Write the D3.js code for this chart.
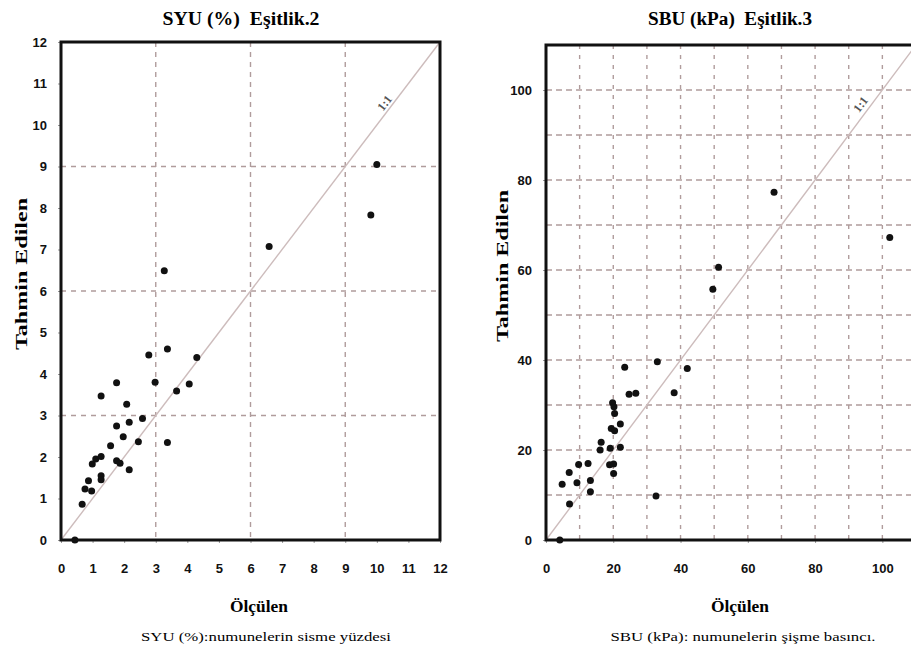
<!DOCTYPE html>
<html>
<head>
<meta charset="utf-8">
<script src="https://cdn.jsdelivr.net/npm/d3@7"></script>
<style>
  body { margin: 0; background: #fff; }
  svg { display: block; }
  .title { font-family: "Liberation Serif", serif; font-weight: bold; font-size: 18px; white-space: pre; }
  .axlab { font-family: "Liberation Serif", serif; font-weight: bold; font-size: 17px; }
  .cap { font-family: "Liberation Serif", serif; font-size: 13px; }
  .tick text { font-family: "Liberation Sans Narrow", "Liberation Sans", sans-serif; font-weight: bold; font-size: 13px; fill: #111; }
</style>
</head>
<body>
<div id="chart"></div>
<script>
// left panel: SYU (%) measured vs predicted
var syuMeasured  = [0.67, 0.76, 0.87, 0.97, 0.99, 1.10, 1.27, 1.27, 1.27, 1.27, 1.57, 1.76, 1.76, 1.76, 1.87, 1.97, 2.08, 2.16, 2.16, 2.45, 2.58, 2.78, 2.98, 3.37, 3.37, 3.66, 4.06, 4.30, 3.27, 6.59, 9.81, 10.0, 0.44];
var syuPredicted = [0.86, 1.23, 1.43, 1.18, 1.83, 1.95, 2.01, 1.55, 1.45, 3.47, 2.27, 3.79, 2.75, 1.91, 1.85, 2.49, 3.27, 2.84, 1.69, 2.37, 2.93, 4.46, 3.80, 4.60, 2.35, 3.59, 3.76, 4.40, 6.49, 7.07, 7.83, 9.05, 0.0];
var syuTicks = [0,1,2,3,4,5,6,7,8,9,10,11,12];
var syuGrid = [3, 6, 9];

// right panel: SBU (kPa) measured vs predicted
var sbuMeasured  = [49.6, 23.4, 33.1, 42.0, 24.7, 26.7, 38.1, 19.8, 20.2, 20.4, 19.4, 20.4, 22.1, 16.4, 16.1, 19.1, 22.1, 18.9, 20.1, 20.1, 9.7, 12.5, 6.9, 4.8, 9.2, 13.2, 13.2, 7.0, 32.7, 67.8, 51.3, 102.2, 4.1];
var sbuPredicted = [55.7, 38.4, 39.6, 38.1, 32.4, 32.6, 32.7, 30.5, 29.6, 28.1, 24.8, 24.3, 25.8, 21.7, 20.0, 20.4, 20.6, 16.7, 16.9, 14.8, 16.8, 17.0, 15.0, 12.4, 12.7, 13.2, 10.7, 8.0, 9.8, 77.3, 60.6, 67.2, 0.0];
var sbuTicks = [0, 20, 40, 60, 80, 100];
var sbuGrid = [10, 20, 30, 40, 50, 60, 70, 80, 90, 100];

var svg = d3.select("#chart").append("svg")
    .attr("width", 911)
    .attr("height", 654);

var gridColor = "#b09c9c";

function drawPanel(opt) {
    var x = d3.scaleLinear().domain(opt.domain).range([opt.left, opt.right]);
    var y = d3.scaleLinear().domain(opt.domain).range([opt.bottom, opt.top]);
    var g = svg.append("g");

    // vertical grid
    g.selectAll(".vg").data(opt.grid).enter().append("line")
        .attr("x1", d => x(d)).attr("x2", d => x(d))
        .attr("y1", opt.top).attr("y2", opt.bottom)
        .attr("stroke", gridColor).attr("stroke-width", 1.4)
        .attr("stroke-dasharray", opt.dashV);
    // horizontal grid
    g.selectAll(".hg").data(opt.grid).enter().append("line")
        .attr("y1", d => y(d)).attr("y2", d => y(d))
        .attr("x1", opt.left).attr("x2", opt.right)
        .attr("stroke", gridColor).attr("stroke-width", 1.4)
        .attr("stroke-dasharray", opt.dashH);

    // 1:1 line
    var dmax = opt.domain[1];
    g.append("line")
        .attr("x1", x(0)).attr("y1", y(0))
        .attr("x2", x(dmax)).attr("y2", y(dmax))
        .attr("stroke", "#cdbcbc").attr("stroke-width", 1.4);
    var ang = -Math.atan2(y(0) - y(1), x(1) - x(0)) * 180 / Math.PI;
    g.append("text")
        .attr("transform", "translate(" + x(opt.labelAt) + "," + (y(opt.labelAt) - opt.labelOff) + ") rotate(" + ang + ")")
        .attr("text-anchor", "middle")
        .style("font-family", "Liberation Serif, serif")
        .style("font-weight", "bold")
        .style("font-size", "12px")
        .attr("fill", "#555")
        .text("1:1");

    // axes
    var xAxis = d3.axisBottom(x).tickValues(opt.ticks).tickSize(3).tickPadding(21).tickFormat(d3.format("d"));
    var yAxis = d3.axisLeft(y).tickValues(opt.ticks).tickSize(3).tickPadding(11).tickFormat(d3.format("d"));
    g.append("g").attr("class", "x axis").attr("transform", "translate(0," + opt.bottom + ")").call(xAxis);
    g.append("g").attr("class", "y axis").attr("transform", "translate(" + opt.left + ",0)").call(yAxis);
    g.selectAll(".domain").remove();
    g.selectAll(".tick line").attr("stroke", "#999");

    // points
    g.selectAll(".pt").data(opt.xs).enter().append("circle")
        .attr("cx", d => x(d))
        .attr("cy", (d, i) => y(opt.ys[i]))
        .attr("r", 3.5)
        .attr("fill", "#111");

    // frame
    g.append("rect")
        .attr("x", opt.left).attr("y", opt.top)
        .attr("width", opt.right - opt.left).attr("height", opt.bottom - opt.top)
        .attr("fill", "none").attr("stroke", "#111").attr("stroke-width", 3);

    svg.append("text").attr("class", "title")
        .attr("x", opt.titleX).attr("y", 25).attr("text-anchor", "middle")
        .attr("textLength", opt.titleW).attr("lengthAdjust", "spacingAndGlyphs")
        .text(opt.title);
    svg.append("text").attr("class", "axlab")
        .attr("x", opt.xLabX).attr("y", 612).attr("text-anchor", "middle")
        .attr("textLength", 58).attr("lengthAdjust", "spacingAndGlyphs")
        .text("Ölçülen");
    svg.append("text").attr("class", "axlab")
        .attr("transform", "translate(" + opt.yLabX + "," + opt.yLabY + ") rotate(-90)")
        .attr("text-anchor", "middle")
        .attr("textLength", 152).attr("lengthAdjust", "spacingAndGlyphs")
        .text("Tahmin Edilen");
    svg.append("text").attr("class", "cap")
        .attr("x", opt.capX).attr("y", 641).attr("text-anchor", "middle")
        .attr("textLength", opt.capW).attr("lengthAdjust", "spacingAndGlyphs")
        .text(opt.caption);
}

drawPanel({
    domain: [0, 12], left: 61, right: 440, top: 42, bottom: 540,
    grid: syuGrid, ticks: syuTicks, xs: syuMeasured, ys: syuPredicted,
    dashV: "5,5", dashH: "5,5", labelAt: 10.35, labelOff: 5,
    title: "SYU (%)  Eşitlik.2", titleX: 241, titleW: 157,
    xLabX: 259, yLabX: 27, yLabY: 274,
    capX: 266, capW: 250,
    caption: "SYU (%):numunelerin sisme yüzdesi"
});

drawPanel({
    domain: [0, 110], left: 546, right: 916, top: 45, bottom: 540,
    grid: sbuGrid, ticks: sbuTicks, xs: sbuMeasured, ys: sbuPredicted,
    dashV: "4,6", dashH: "6,4", labelAt: 94.5, labelOff: 8,
    title: "SBU (kPa)  Eşitlik.3", titleX: 730, titleW: 164,
    xLabX: 740, yLabX: 508, yLabY: 266,
    capX: 743, capW: 265,
    caption: "SBU (kPa): numunelerin şişme basıncı."
});
</script>
</body>
</html>
